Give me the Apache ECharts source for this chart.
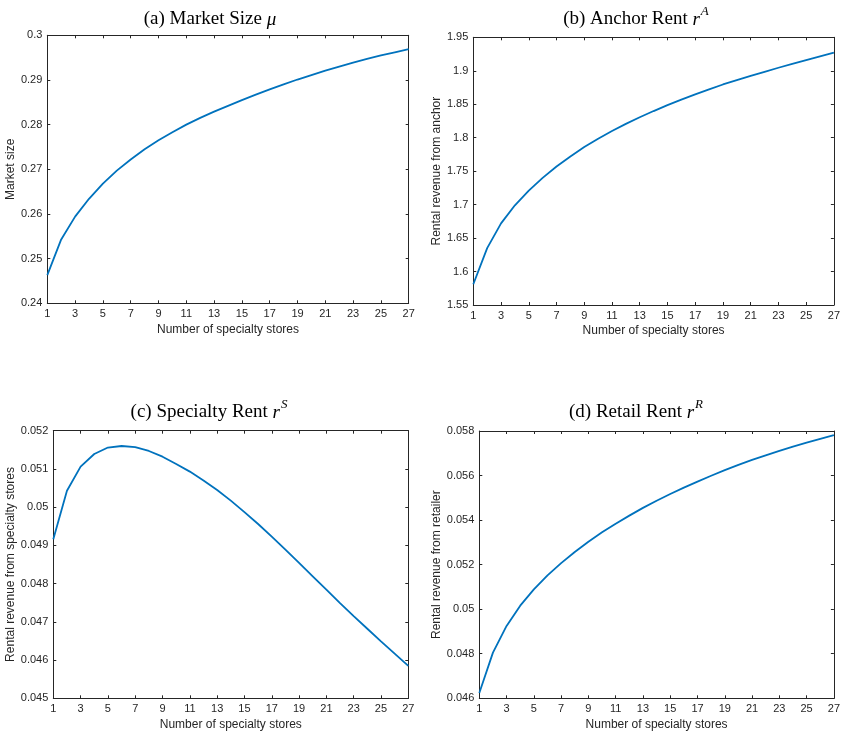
<!DOCTYPE html>
<html>
<head>
<meta charset="utf-8">
<script src="https://cdn.jsdelivr.net/npm/echarts@6/dist/echarts.min.js"></script>
<style>
html,body{margin:0;padding:0;background:#fff;}
#chart{width:843px;height:736px;}
</style>
</head>
<body>
<div id="chart"></div>
<script>
// ---- data ----
const storeCounts = ['1','2','3','4','5','6','7','8','9','10','11','12','13','14','15','16','17','18','19','20','21','22','23','24','25','26','27'];

const marketSize = [0.2463,0.2543,0.2594,0.2634,0.2668,0.2697,0.2722,0.2745,0.2765,0.2783,0.2800,0.2815,0.2829,0.2842,0.2855,0.2867,0.2879,0.2890,0.2901,0.2911,0.2921,0.2930,0.2939,0.2947,0.2955,0.2962,0.2969];

const anchorRent = [1.581,1.635,1.672,1.699,1.721,1.740,1.757,1.772,1.786,1.7985,1.8100,1.8206,1.8305,1.8398,1.8486,1.8569,1.8648,1.8723,1.8795,1.8860,1.8923,1.8985,1.9045,1.9103,1.9160,1.9215,1.9270];

const specialtyRent = [0.04916,0.05043,0.05106,0.05139,0.05156,0.05160,0.05157,0.05147,0.05132,0.05113,0.05093,0.05070,0.05045,0.05017,0.04987,0.04956,0.04923,0.04889,0.04854,0.04819,0.04784,0.04749,0.04715,0.04682,0.04649,0.04617,0.04585];

const retailRent = [0.04624,0.04805,0.04925,0.05016,0.05089,0.05152,0.05207,0.05257,0.05303,0.05345,0.05384,0.05420,0.05455,0.05487,0.05517,0.05546,0.05573,0.05599,0.05624,0.05648,0.05670,0.05691,0.05711,0.05730,0.05748,0.05765,0.05781];

// y-axis ranges [min, max, interval]
const yRangeA = [0.24, 0.30, 0.01];
const yRangeB = [1.55, 1.95, 0.05];
const yRangeC = [0.045, 0.052, 0.001];
const yRangeD = [0.046, 0.058, 0.002];

const xAxisName = 'Number of specialty stores';
const yNames = ['Market size', 'Rental revenue from anchor', 'Rental revenue from specialty stores', 'Rental revenue from retailer'];

// ---- layout / style ----
const AX = '#262626';
const LINE = '#0072BD';
const SANS = 'Liberation Sans, Arial, Helvetica, sans-serif';
const SERIF = 'Liberation Serif, Times New Roman, serif';

const panels = [
  {grid:{left:47.3, top:35.3, width:361.4, height:268}, y:yRangeA, data:marketSize, yName:yNames[0], yGap:26},
  {grid:{left:473.3, top:37.3, width:361, height:267.7}, y:yRangeB, data:anchorRent, yName:yNames[1], yGap:26},
  {grid:{left:53.3, top:430.7, width:355, height:267.6}, y:yRangeC, data:specialtyRent, yName:yNames[2], yGap:32},
  {grid:{left:479.3, top:431, width:355, height:267.3}, y:yRangeD, data:retailRent, yName:yNames[3], yGap:32}
];

const grids = [], xAxes = [], yAxes = [], series = [];
panels.forEach((p, i) => {
  grids.push(Object.assign({containLabel:false}, p.grid));
  const tick = {show:true, inside:true, length:3, interval:1, lineStyle:{color:AX, width:1}};
  const line = {show:true, onZero:false, lineStyle:{color:AX, width:1}};
  xAxes.push({
    type:'category', gridIndex:i, data:storeCounts, boundaryGap:false, position:'bottom',
    axisLine:line, axisTick:tick,
    axisLabel:{interval:1, color:AX, fontSize:11, fontFamily:SANS, margin:5},
    splitLine:{show:false},
    name:xAxisName, nameLocation:'middle', nameGap:20,
    nameTextStyle:{color:AX, fontSize:12, fontFamily:SANS}
  });
  xAxes.push({
    type:'category', gridIndex:i, data:storeCounts, boundaryGap:false, position:'top',
    axisLine:line, axisTick:tick, axisLabel:{show:false}, splitLine:{show:false}
  });
  const ytick = {show:true, inside:true, length:3, lineStyle:{color:AX, width:1}};
  yAxes.push({
    type:'value', gridIndex:i, position:'left', min:p.y[0], max:p.y[1], interval:p.y[2],
    axisLine:line, axisTick:ytick,
    axisLabel:{color:AX, fontSize:11, fontFamily:SANS, margin:5},
    splitLine:{show:false},
    name:p.yName, nameLocation:'middle', nameGap:p.yGap,
    nameTextStyle:{color:AX, fontSize:12, fontFamily:SANS}
  });
  yAxes.push({
    type:'value', gridIndex:i, position:'right', min:p.y[0], max:p.y[1], interval:p.y[2],
    axisLine:line, axisTick:ytick, axisLabel:{show:false}, splitLine:{show:false}
  });
  series.push({
    type:'line', xAxisIndex:2*i, yAxisIndex:2*i, data:p.data,
    showSymbol:false, symbol:'none', smooth:false,
    lineStyle:{color:LINE, width:1.8}, animation:false
  });
});

const richStyle = {
  n:{fontFamily:SERIF, fontSize:19, color:'#000', lineHeight:24, verticalAlign:'bottom'},
  i:{fontFamily:SERIF, fontSize:19, fontStyle:'italic', color:'#000', lineHeight:24, verticalAlign:'bottom'},
  s:{fontFamily:SERIF, fontSize:13, fontStyle:'italic', color:'#000', lineHeight:24, verticalAlign:'top', padding:[0,0,0,1]}
};
function titleText(x, y, text) {
  return {type:'text', x:x, y:y, silent:true,
    style:{text:text, rich:richStyle, align:'center', verticalAlign:'middle', fill:'#000'}};
}

const chart = echarts.init(document.getElementById('chart'), null, {renderer:'canvas'});
chart.setOption({
  backgroundColor:'#fff',
  animation:false,
  grid:grids,
  xAxis:xAxes,
  yAxis:yAxes,
  series:series,
  graphic:[
    titleText(210, 17, '{n|(a) Market Size }{i|μ}'),
    titleText(636, 17, '{n|(b) Anchor Rent }{i|r}{s|A}'),
    titleText(209, 410, '{n|(c) Specialty Rent }{i|r}{s|S}'),
    titleText(636, 410, '{n|(d) Retail Rent }{i|r}{s|R}')
  ]
});
</script>
</body>
</html>
